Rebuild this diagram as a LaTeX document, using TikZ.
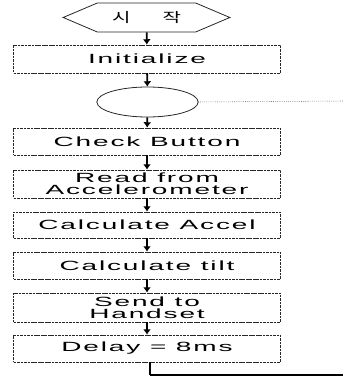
\documentclass[tikz,border=0pt]{standalone}
\usepackage{fontspec}
\setmainfont{Liberation Sans}[FakeStretch=2.1,LetterSpace=14]
\newfontfamily\hangul{Noto Sans CJK KR}[FakeStretch=1.5]
\usetikzlibrary{arrows.meta,shapes.symbols,shapes.geometric}

\tikzset{
  flowbox/.style={draw=black!85,line width=0.6pt,dash pattern=on 2pt off 0.6pt,
    minimum width=200pt,minimum height=20.25pt,inner sep=0pt,align=center,
    font=\fontsize{10}{9.2}\selectfont},
  flowarrow/.style={line width=1.4pt,-{Latex[length=4pt,width=6pt]}},
  loopline/.style={line width=0.4pt,black!80,densely dotted}
}

\begin{document}
\begin{tikzpicture}[x=0.75pt,y=-0.75pt]
\useasboundingbox (0,0) rectangle (344,378);
% start
\node (start) at (146.5,17.5)[draw=black!85,line width=0.6pt,shape=signal,signal to=east and west,
  signal pointer angle=46,minimum width=125pt,minimum height=21.75pt,inner sep=0pt]
  {\hangul\fontsize{10}{10}\selectfont 시\hspace{24pt}작\hspace{6pt}};
\node (init) at (147,59)[flowbox,minimum height=21pt]{Initialize};
\node (loop) at (147.5,102)[draw=black!85,line width=0.6pt,ellipse,minimum width=76pt,minimum height=22.5pt,inner sep=0pt]{};
\node (check) at (147,141.5)[flowbox]{Check Button};
\node (read) at (147,184)[flowbox,minimum height=21pt]{Read from\\Accelerometer};
\node (accel) at (147,225)[flowbox,minimum height=19.5pt]{Calculate Accel};
\node (tilt) at (147,265.5)[flowbox]{Calculate tilt};
\node (send) at (147,307.5)[flowbox,minimum height=21.75pt]{Send to\\Handset};
\node (delay) at (147,348.5)[flowbox]{Delay = 8ms};
\coordinate (loopin) at (343,101);
\coordinate (loopout) at (343,375);
% arrows
\draw[flowarrow] (start) -- (init);
\draw[flowarrow] (init) -- (loop);
\draw[flowarrow] (loop) -- (check);
\draw[flowarrow] (check) -- (read);
\draw[flowarrow] (read) -- (accel);
\draw[flowarrow] (accel) -- (tilt);
\draw[flowarrow] (tilt) -- (send);
\draw[flowarrow] (send) -- (delay);
\draw[line width=1.4pt] (delay.south -| 150,0) -- (loopout -| 150,0);
\draw[line width=0.8pt] (loopout -| 149.5,0) -- (loopout);
\draw[loopline] (loop.east) -- (loopin);
\end{tikzpicture}
\end{document}
